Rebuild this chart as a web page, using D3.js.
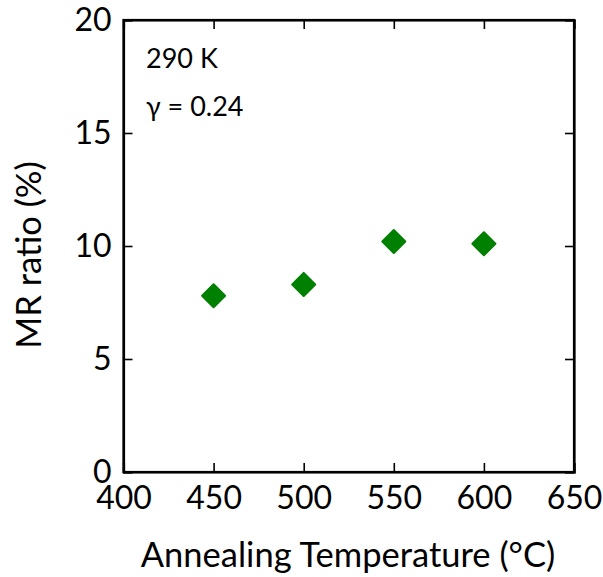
<!DOCTYPE html>
<html>
<head>
<meta charset="utf-8">
<script src="https://cdn.jsdelivr.net/npm/d3@7"></script>
<style>
  html, body { margin: 0; padding: 0; background: #fff; }
  svg text { font-family: Lato, "Open Sans", "Liberation Sans", sans-serif; fill: #000; }
</style>
</head>
<body>
<svg id="chart" width="603" height="577"></svg>
<script>
// Annealing temperature (°C) and MR ratio (%)
const temperatures = [450, 500, 550, 600];
const mrRatio = [7.8, 8.3, 10.2, 10.1];
const xTicks = [400, 450, 500, 550, 600, 650];
const yTicks = [0, 5, 10, 15, 20];
const notes = ["290 K", "γ = 0.24"];

const svg = d3.select("#chart");
const m = { left: 123.5, right: 574, top: 20, bottom: 472 };

const x = d3.scaleLinear().domain([400, 650]).range([m.left, m.right]);
const y = d3.scaleLinear().domain([0, 20]).range([m.bottom, m.top]);

const tickLen = 9;
const tickFont = 32;

// bottom axis with inward ticks
const axBottom = svg.append("g").attr("transform", `translate(0,${m.bottom})`)
  .call(d3.axisBottom(x).tickValues(xTicks).tickSize(-tickLen).tickPadding(0));
// top axis, ticks only
const axTop = svg.append("g").attr("transform", `translate(0,${m.top})`)
  .call(d3.axisTop(x).tickValues(xTicks).tickSize(-tickLen).tickFormat(""));
// left axis with inward ticks
const axLeft = svg.append("g").attr("transform", `translate(${m.left},0)`)
  .call(d3.axisLeft(y).tickValues(yTicks).tickSize(-tickLen).tickPadding(12));
// right axis, ticks only
const axRight = svg.append("g").attr("transform", `translate(${m.right},0)`)
  .call(d3.axisRight(y).tickValues(yTicks).tickSize(-tickLen).tickFormat(""));

[axBottom, axTop, axLeft, axRight].forEach(g => {
  g.select(".domain").attr("stroke", "#000").attr("stroke-width", 2.2);
  g.selectAll(".tick line").attr("stroke", "#000").attr("stroke-width", 1.6);
  g.selectAll(".tick text").attr("font-size", tickFont).attr("fill", "#000");
});

// baseline of the x tick labels sits about 37px below the axis
axBottom.selectAll(".tick text").attr("y", 37).attr("dy", null);
axLeft.selectAll(".tick text").attr("x", -12);

// frame
svg.append("rect")
  .attr("x", m.left).attr("y", m.top)
  .attr("width", m.right - m.left).attr("height", m.bottom - m.top)
  .attr("fill", "none").attr("stroke", "#000").attr("stroke-width", 2.2);

// data markers (green diamonds)
const diamond = d3.symbol().type(d3.symbolSquare).size(265);
svg.append("g").selectAll("path")
  .data(temperatures.map((t, i) => ({ t, v: mrRatio[i] })))
  .join("path")
  .attr("d", diamond)
  .attr("transform", d => `translate(${x(d.t)},${y(d.v)}) rotate(45)`)
  .attr("fill", "#008000")
  .attr("stroke", "#008000")
  .attr("stroke-width", 2)
  .attr("stroke-linejoin", "round");

// annotations
svg.append("g").selectAll("text")
  .data(notes)
  .join("text")
  .attr("x", 146)
  .attr("y", (d, i) => 68 + i * 48)
  .attr("font-size", 27)
  .text(d => d);

// axis titles
svg.append("text")
  .attr("x", 348)
  .attr("y", 567)
  .attr("text-anchor", "middle")
  .attr("font-size", 34.5)
  .text("Annealing Temperature (°C)");

svg.append("text")
  .attr("transform", `translate(41,255) rotate(-90)`)
  .attr("text-anchor", "middle")
  .attr("font-size", 34.5)
  .text("MR ratio (%)");
</script>
</body>
</html>
